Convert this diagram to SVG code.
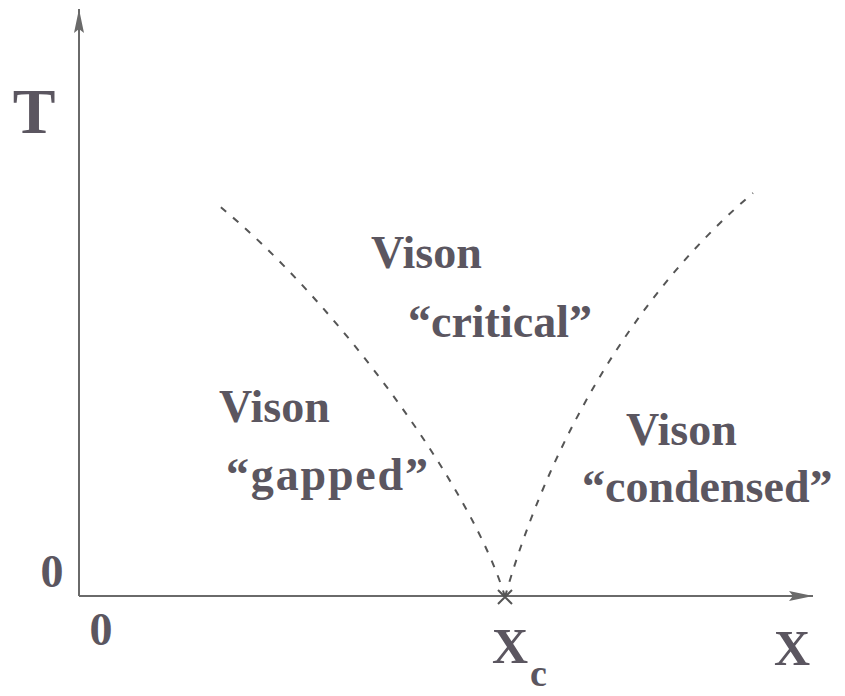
<svg xmlns="http://www.w3.org/2000/svg" width="845" height="696" viewBox="0 0 845 696">
<style>
.lbl{font-family:"Liberation Serif","Times New Roman",serif;font-weight:bold;fill:#5b5660;}
.axis{stroke:#6a6a6a;stroke-width:2;fill:none;}
.crit{stroke:#555;stroke-width:2;fill:none;stroke-dasharray:7 9;}
</style>
<defs>
<marker id="arr" markerWidth="26" markerHeight="12" refX="24" refY="6" orient="auto" markerUnits="userSpaceOnUse">
<path d="M0,1 L24,6 L0,11 L4,6 Z" fill="#6a6a6a"/>
</marker>
</defs>
<rect width="845" height="696" fill="#ffffff"/>
<g id="connectors">
<path id="axis-T" class="axis" d="M79,596 L79,9" marker-end="url(#arr)"/>
<path id="axis-x" class="axis" d="M79,596 L813,596" marker-end="url(#arr)"/>
<path id="boundary-left" class="crit" d="M505,597 C473,489 336,301 218,205"/>
<path id="boundary-right" class="crit" d="M505,597 C534,494 605,319 753,193"/>
<path id="xc-mark" stroke="#555" stroke-width="2" d="M498,590 L512,604 M512,590 L498,604"/>
</g>
<g id="axis-labels">
<text class="lbl" x="34" y="133" font-size="64" text-anchor="middle">T</text>
<text class="lbl" x="52" y="587" font-size="46" text-anchor="middle">0</text>
<text class="lbl" x="101" y="645" font-size="46" text-anchor="middle">0</text>
<text class="lbl" x="792" y="665" font-size="50" text-anchor="middle">X</text>
<text class="lbl" x="510" y="663" font-size="50" text-anchor="middle">X</text>
<text class="lbl" x="530" y="686" font-size="38">c</text>
</g>
<g id="region-critical">
<text class="lbl" x="371" y="268" font-size="46">Vison</text>
<text class="lbl" x="408" y="337" font-size="46">“critical”</text>
</g>
<g id="region-gapped">
<text class="lbl" x="219" y="422" font-size="46">Vison</text>
<text class="lbl" x="226" y="490" font-size="46" textLength="202" lengthAdjust="spacing">“gapped”</text>
</g>
<g id="region-condensed">
<text class="lbl" x="626" y="445" font-size="46">Vison</text>
<text class="lbl" x="582" y="502" font-size="46">“condensed”</text>
</g>
</svg>
